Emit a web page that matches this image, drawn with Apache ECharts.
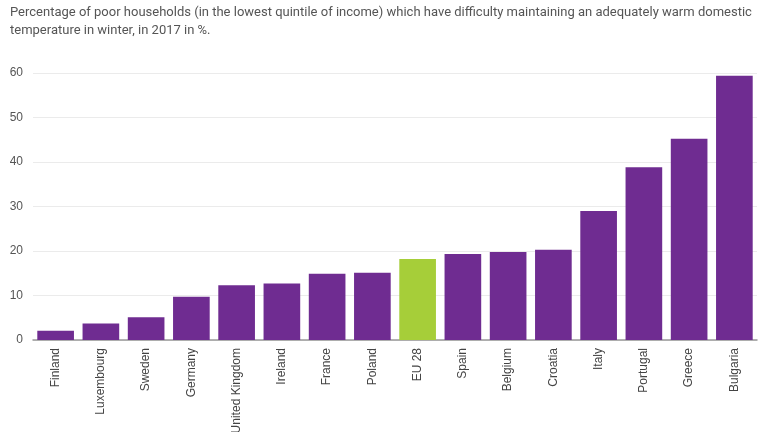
<!DOCTYPE html>
<html>
<head>
<meta charset="utf-8">
<script src="https://cdn.jsdelivr.net/npm/echarts@6/dist/echarts.min.js"></script>
<style>html,body{margin:0;padding:0;background:#fff;}#c{width:768px;height:432px;}</style>
</head>
<body>
<div id="c"></div>
<script>
var categories = ["Finland","Luxembourg","Sweden","Germany","United Kingdom","Ireland","France","Poland","EU 28","Spain","Belgium","Croatia","Italy","Portugal","Greece","Bulgaria"];
var values = [2.1, 3.7, 5.1, 9.7, 12.3, 12.7, 14.9, 15.1, 18.2, 19.3, 19.8, 20.3, 29.0, 38.8, 45.2, 59.4];
var highlight = "EU 28";
var yTicks = [0, 60, 10];
var titleText = "Percentage of poor households (in the lowest quintile of income) which have difficulty maintaining an adequately warm domestic\ntemperature in winter, in 2017 in %.";

var chart = echarts.init(document.getElementById('c'), null, {renderer: 'canvas'});
chart.setOption({
  animation: false,
  backgroundColor: '#fff',
  title: {
    text: titleText,
    left: 10, top: 4, padding: 0,
    textStyle: {fontFamily: 'Roboto', fontSize: 13, fontWeight: 'normal', color: '#555', lineHeight: 18}
  },
  grid: {left: 33, right: 11, top: 73, bottom: 92, containLabel: false, outerBoundsMode: 'none'},
  xAxis: {
    type: 'category',
    data: categories,
    axisTick: {show: false},
    axisLine: {lineStyle: {color: '#999', width: 1.5}},
    axisLabel: {rotate: 90, color: '#444', fontFamily: 'Liberation Sans, Arial', fontSize: 12, interval: 0, margin: 8}
  },
  yAxis: {
    type: 'value',
    min: yTicks[0], max: yTicks[1], interval: yTicks[2],
    axisLine: {show: false},
    axisTick: {show: false},
    axisLabel: {color: '#555', fontFamily: 'Liberation Sans, Arial', fontSize: 12, margin: 10},
    splitLine: {lineStyle: {color: '#ebebeb', width: 1}}
  },
  series: [{
    type: 'bar',
    barCategoryGap: '19%',
    data: values.map(function(v, i){
      return {value: v, itemStyle: {color: categories[i] === highlight ? '#a6ce39' : '#6f2c91'}};
    })
  }]
});
</script>
</body>
</html>
